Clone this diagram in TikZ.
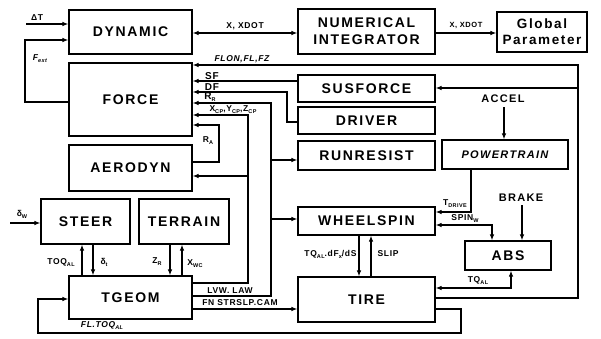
\documentclass[tikz,border=0pt]{standalone}
\usepackage{fontspec}
\setmainfont{Liberation Sans}
\newfontfamily\boxfont[LetterSpace=12]{Liberation Sans}
\newfontfamily\lblfont[LetterSpace=8]{Liberation Sans}
\usetikzlibrary{arrows.meta}
\newcommand\lsub[1]{\raisebox{-0.45ex}{\fontsize{5.5}{6}\selectfont #1}}
\begin{document}
\begin{tikzpicture}[x=1pt,y=-1pt,line width=1.1pt,
  blk/.style={draw,rectangle,inner sep=0pt,align=center,font=\boxfont\bfseries\fontsize{14}{17}\selectfont},
  lbl/.style={inner sep=0pt,font=\lblfont\bfseries\fontsize{8.5}{10}\selectfont},
  ilbl/.style={lbl,font=\lblfont\bfseries\itshape\fontsize{8.5}{10}\selectfont},
  ext/.style={inner sep=0pt,font=\boxfont\bfseries\fontsize{11}{13}\selectfont},
  arr/.style={-{Latex[length=6pt,width=4.5pt]}},
  rarr/.style={{Latex[length=6pt,width=4.5pt]}-},
  darr/.style={{Latex[length=6pt,width=4.5pt]}-{Latex[length=6pt,width=4.5pt]}}]
\useasboundingbox (0,0) rectangle (601,338);

% blocks
\node[blk,minimum width=123,minimum height=44] (dyn) at (130.5,32) {DYNAMIC};
\node[blk,minimum width=137,minimum height=45] (numint) at (366.5,31.5) {NUMERICAL\\INTEGRATOR};
\node[blk,minimum width=90,minimum height=40,font=\boxfont\bfseries\fontsize{13.5}{16}\selectfont] (glob) at (542,32) {Global\\Parameter};
\node[blk,minimum width=123,minimum height=73] (force) at (130.5,99.5) {FORCE};
\node[blk,minimum width=123,minimum height=46] (aero) at (130.5,168) {AERODYN};
\node[blk,minimum width=89,minimum height=45] (steer) at (85.5,221.5) {STEER};
\node[blk,minimum width=90,minimum height=45] (terrain) at (184,221.5) {TERRAIN};
\node[blk,minimum width=123,minimum height=43] (tgeom) at (130.5,297.5) {TGEOM};
\node[blk,minimum width=137,minimum height=27] (susf) at (366.5,88.5) {SUSFORCE};
\node[blk,minimum width=137,minimum height=27] (driver) at (366.5,120.5) {DRIVER};
\node[blk,minimum width=137,minimum height=29] (runres) at (366.5,155.5) {RUNRESIST};
\node[blk,minimum width=126,minimum height=29,font=\boxfont\bfseries\itshape\fontsize{11}{13}\selectfont] (power) at (505,154.5) {POWERTRAIN};
\node[blk,minimum width=137,minimum height=28] (wheel) at (366.5,221) {WHEELSPIN};
\node[blk,minimum width=86,minimum height=29] (abs) at (508,255.5) {ABS};
\node[blk,minimum width=137,minimum height=45] (tire) at (366.5,299.5) {TIRE};

\node[ext] (accel) at (503,99) {ACCEL};
\node[ext] (brake) at (521,198) {BRAKE};

% inputs
\coordinate (dtin) at (26,24);
\draw[arr] (dtin) -- (dyn.west |- 0,24);
\node[lbl] (ldt) at (37,18) {ΔT};
\coordinate (dwin) at (10,223);
\draw[arr] (dwin) -- (steer.west |- 0,223);
\node[lbl] (ldw) at (22,214) {δ\lsub{W}};
\draw[arr] (accel.south) ++(1,4) -- (power.north -| 504,0);
\draw[arr] (brake.south) ++(1,3) -- (abs.north -| 522,0);

% F_ext
\draw[arr] (force.west |- 0,102) -- (25,102) -- (25,40) -- (dyn.west |- 0,40);
\node[ilbl] (lfext) at (40,59) {F\lsub{ext}};

% top row
\draw[darr] (dyn.east |- 0,33) -- (numint.west |- 0,33);
\node[lbl] (lx1) at (245,26) {X, XDOT};
\draw[arr] (numint.east |- 0,33) -- (glob.west |- 0,33);
\node[lbl,font=\lblfont\bfseries\fontsize{7.5}{9}\selectfont] (lx2) at (466,25) {X, XDOT};

% big loop TIRE -> FORCE, SUSFORCE
\draw[arr] (tire.east |- 0,298) -- (578,298) -- (578,65) -- (force.east |- 0,65);
\draw[arr] (578,88) -- (susf.east |- 0,88);
\node[ilbl] (lflon) at (242,59) {FLON,FL,FZ};

% SF, DF
\draw[arr] (susf.west |- 0,81) -- (force.east |- 0,81);
\node[lbl,font=\lblfont\bfseries\fontsize{10}{11}\selectfont] (lsf) at (212,76) {SF};
\draw[arr] (driver.west |- 0,122) -- (287,122) -- (287,92) -- (force.east |- 0,92);
\node[lbl,font=\lblfont\bfseries\fontsize{10}{11}\selectfont] (ldf) at (212,87) {DF};

% R_R bus (LVW, LAW)
\draw[arr] (tgeom.east |- 0,296) -- (271,296) -- (271,103) -- (force.east |- 0,103);
\draw[arr] (271,160) -- (runres.west |- 0,160);
\draw[arr] (271,219) -- (wheel.west |- 0,219);
\node[lbl,font=\lblfont\bfseries\fontsize{10}{11}\selectfont] (lrr) at (210,97) {R\lsub{R}};
\node[lbl] (llvw) at (230,291) {LVW. LAW};

% Xcp bus
\draw[arr] (tgeom.east |- 0,283) -- (248,283) -- (248,115) -- (force.east |- 0,115);
\draw[arr] (248,176) -- (aero.east |- 0,176);
\node[lbl] (lxcp) at (233,110) {X\lsub{CP},Y\lsub{CP},Z\lsub{CP}};

% R_A
\draw[arr] (aero.east |- 0,162) -- (219,162) -- (219,125) -- (force.east |- 0,125);
\node[lbl] (lra) at (208,141) {R\lsub{A}};

% TGEOM -> TIRE
\draw[arr] (tgeom.east |- 0,309) -- (tire.west |- 0,309);
\node[lbl] (lfn) at (240,303) {FN STRSLP.CAM};

% FL, TOQ loop
\draw[arr] (tire.east |- 0,309) -- (461,309) -- (461,333) -- (38,333) -- (38,299) -- (tgeom.west |- 0,299);
\node[ilbl] (lfl) at (102,326) {FL.TOQ\lsub{AL}};

% STEER / TERRAIN <-> TGEOM
\draw[arr] (tgeom.north -| 82,0) -- (steer.south -| 82,0);
\node[lbl] (ltoq1) at (61,263) {TOQ\lsub{AL}};
\draw[arr] (steer.south -| 93,0) -- (tgeom.north -| 93,0);
\node[lbl] (ldt2) at (104,262) {δ\lsub{t}};
\draw[arr] (terrain.south -| 170,0) -- (tgeom.north -| 170,0);
\node[lbl] (lzr) at (157,262) {Z\lsub{R}};
\draw[arr] (tgeom.north -| 182,0) -- (terrain.south -| 182,0);
\node[lbl] (lxwc) at (195,264) {X\lsub{WC}};

% WHEELSPIN <-> TIRE
\draw[arr] (wheel.south -| 359,0) -- (tire.north -| 359,0);
\node[lbl,anchor=east] (ltq) at (357,254) {TQ\lsub{AL}.dF\lsub{x}/dS};
\draw[arr] (tire.north -| 371,0) -- (wheel.south -| 371,0);
\node[lbl] (lslip) at (388,254) {SLIP};

% POWERTRAIN -> WHEELSPIN
\draw[arr] (power.south -| 471,0) -- (471,212) -- (wheel.east |- 0,212);
\node[lbl] (ltd) at (455,204) {T\lsub{DRIVE}};
% SPIN_W
\draw[darr] (wheel.east |- 0,225) -- (492,225) -- (abs.north -| 492,0);
\node[lbl] (lspin) at (465,219) {SPIN\lsub{W}};
% ABS <-> TIRE
\draw[darr] (tire.east |- 0,288) -- (511,288) -- (abs.south -| 511,0);
\node[lbl] (ltq2) at (478,281) {TQ\lsub{AL}};
\end{tikzpicture}
\end{document}
